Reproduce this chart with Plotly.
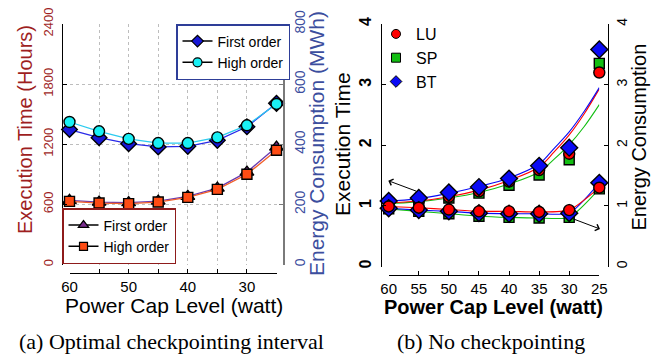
import plotly.graph_objects as go

# ---------------- data ----------------
power = [60, 55, 50, 45, 40, 35, 30, 25]
power_labels_a = ["60", "", "50", "", "40", "", "30", ""]
power_labels_b = ["60", "55", "50", "45", "40", "35", "30", "25"]

# panel (a): execution time (hours) and energy (MWh)
time_first = [640, 622, 617, 632, 680, 762, 922, 1172]
time_high = [630, 613, 607, 623, 670, 750, 900, 1140]
energy_first = [449, 422, 402, 391, 393, 413, 458, 536]
energy_high = [474, 443, 418, 404, 404, 423, 463, 534]
time_ticks_a = [0, 600, 1200, 1800, 2400]
energy_ticks_a = [0, 200, 400, 600, 800]

# panel (b): normalized execution time / energy
time_LU = [1.05, 1.08, 1.15, 1.24, 1.40, 1.59, 1.86, 3.20]
time_SP = [1.04, 1.07, 1.13, 1.21, 1.34, 1.51, 1.76, 3.35]
time_BT = [1.08, 1.13, 1.22, 1.31, 1.45, 1.66, 1.96, 3.58]
energy_LU = [0.99, 0.97, 0.94, 0.91, 0.91, 0.90, 0.93, 1.30]
energy_SP = [0.95, 0.91, 0.87, 0.83, 0.81, 0.80, 0.81, 1.28]
energy_BT = [0.96, 0.93, 0.91, 0.88, 0.87, 0.87, 0.88, 1.38]
# fitted curves for execution time
fit_x = [61.2, 60, 55, 50, 45, 40, 35, 32.5, 30, 27.5, 25]
fit_BT = [1.08, 1.08, 1.12, 1.21, 1.32, 1.46, 1.69, 1.95, 2.22, 2.56, 2.95]
fit_LU = [1.05, 1.05, 1.08, 1.15, 1.26, 1.42, 1.64, 1.89, 2.17, 2.52, 2.93]
fit_SP = [1.04, 1.04, 1.07, 1.13, 1.22, 1.36, 1.56, 1.77, 2.01, 2.31, 2.67]
ticks_b = [0, 1, 2, 3, 4]

# ---------------- styles ----------------
W, H = 665, 355
def px(x):
    return x / W
def py(y):
    return 1 - y / H

SANS = "Liberation Sans, Arial, sans-serif"
SERIF = "Liberation Serif, Times New Roman, serif"
RED_AX = "#9E1F1F"
BLUE_AX = "#3C4E9E"
DIAMOND = "#1717D6"
CYAN = "#19F0F5"
CYAN_LINE = "#2CCBEF"
PURPLE = "#7A2E8E"
ORANGE = "#FF4C14"
GRID = "#bdbdbd"
LU_C, SP_C, BT_C = "#FF0000", "#12BE12", "#0A0AF5"
edge = dict(color="black", width=1.4)

fig = go.Figure()

# ----- panel (a) -----
fig.add_trace(go.Scatter(x=power, y=energy_first, xaxis="x", yaxis="y2", mode="lines+markers",
                         line=dict(color="#2A2AE8", width=1.3),
                         marker=dict(symbol="diamond", size=12, color=DIAMOND, line=edge),
                         showlegend=False, cliponaxis=False))
fig.add_trace(go.Scatter(x=power, y=energy_high, xaxis="x", yaxis="y2", mode="lines+markers",
                         line=dict(color=CYAN_LINE, width=1.3),
                         marker=dict(symbol="circle", size=11, color=CYAN, line=edge),
                         showlegend=False, cliponaxis=False))
fig.add_trace(go.Scatter(x=power, y=time_first, xaxis="x", yaxis="y", mode="lines+markers",
                         line=dict(color="#6A3AB0", width=1.3),
                         marker=dict(symbol="triangle-up", size=12, color=PURPLE, line=edge),
                         showlegend=False, cliponaxis=False))
fig.add_trace(go.Scatter(x=power, y=time_high, xaxis="x", yaxis="y", mode="lines+markers",
                         line=dict(color="#F2602A", width=1.3),
                         marker=dict(symbol="square", size=10, color=ORANGE, line=edge),
                         showlegend=False, cliponaxis=False))

# legend entries (black line + coloured marker)
for name, sym, col, sz, leg in [("First order", "diamond", DIAMOND, 9, "legend"),
                                ("High order", "circle", CYAN, 9, "legend"),
                                ("First order", "triangle-up", PURPLE, 9, "legend2"),
                                ("High order", "square", ORANGE, 8, "legend2")]:
    fig.add_trace(go.Scatter(x=[None], y=[None], xaxis="x", yaxis="y", mode="lines+markers",
                             name=name, legend=leg,
                             line=dict(color="black", width=1.5),
                             marker=dict(symbol=sym, size=sz, color=col, line=dict(color="black", width=1.2))))

# ----- panel (b) -----
for fx, col in [(fit_SP, SP_C), (fit_LU, LU_C), (fit_BT, BT_C)]:
    fig.add_trace(go.Scatter(x=fit_x, y=fx, xaxis="x2", yaxis="y3", mode="lines",
                             line=dict(color=col, width=1.1, shape="spline"),
                             showlegend=False, hoverinfo="skip"))
for ys, col in [(energy_SP, SP_C), (energy_BT, BT_C), (energy_LU, LU_C)]:
    fig.add_trace(go.Scatter(x=power, y=ys, xaxis="x2", yaxis="y4", mode="lines",
                             line=dict(color=col, width=1.1, shape="spline", smoothing=0.6),
                             showlegend=False, hoverinfo="skip"))

fig.add_trace(go.Scatter(x=power, y=time_SP, xaxis="x2", yaxis="y3", mode="markers",
                         marker=dict(symbol="square", size=10, color=SP_C, line=edge),
                         showlegend=False, cliponaxis=False))
fig.add_trace(go.Scatter(x=power, y=time_LU, xaxis="x2", yaxis="y3", mode="markers",
                         marker=dict(symbol="circle", size=11, color=LU_C, line=edge),
                         showlegend=False, cliponaxis=False))
fig.add_trace(go.Scatter(x=power, y=time_BT, xaxis="x2", yaxis="y3", mode="markers",
                         marker=dict(symbol="diamond", size=13, color=BT_C, line=edge),
                         showlegend=False, cliponaxis=False))
fig.add_trace(go.Scatter(x=power, y=energy_SP, xaxis="x2", yaxis="y4", mode="markers",
                         marker=dict(symbol="square", size=10, color=SP_C, line=edge),
                         showlegend=False, cliponaxis=False))
fig.add_trace(go.Scatter(x=power, y=energy_BT, xaxis="x2", yaxis="y4", mode="markers",
                         marker=dict(symbol="diamond", size=13, color=BT_C, line=edge),
                         showlegend=False, cliponaxis=False))
fig.add_trace(go.Scatter(x=power, y=energy_LU, xaxis="x2", yaxis="y4", mode="markers",
                         marker=dict(symbol="circle", size=11, color=LU_C, line=edge),
                         showlegend=False, cliponaxis=False))

for name, sym, col in [("LU", "circle", LU_C), ("SP", "square", SP_C), ("BT", "diamond", BT_C)]:
    fig.add_trace(go.Scatter(x=[None], y=[None], xaxis="x2", yaxis="y3", mode="markers",
                             name=name, legend="legend3",
                             marker=dict(symbol=sym, size=9, color=col, line=dict(color="black", width=1))))

# ---------------- layout ----------------
common_x = dict(anchor="free", showline=True, linecolor="black", linewidth=1,
                ticks="inside", ticklen=4, tickcolor="black", zeroline=False,
                automargin=False,
                tickfont=dict(family=SANS, size=15, color="black"), range=[60, 25])

fig.update_layout(
    template="none",
    width=W, height=H, margin=dict(l=0, r=0, t=0, b=0, pad=0),
    paper_bgcolor="white", plot_bgcolor="rgba(0,0,0,0)",
    font=dict(family=SANS, color="black"),
    xaxis=dict(common_x, domain=[px(69.5), px(276.5)], position=py(273.3),
               tickvals=power, ticktext=power_labels_a,
               showgrid=True, gridcolor=GRID, griddash="dot", gridwidth=1),
    yaxis=dict(domain=[py(264.5), py(24)], range=[0, 2400], anchor="free", position=px(62),
               side="left", showline=True, linecolor="black", linewidth=1, automargin=False,
               ticks="inside", ticklen=4, tickcolor="black",
               tickvals=time_ticks_a, tickangle=-90, ticklabelstandoff=4,
               tickfont=dict(family=SANS, size=13, color=RED_AX),
               showgrid=True, gridcolor=GRID, griddash="dot", gridwidth=1, zeroline=False),
    yaxis2=dict(overlaying="y", side="right", anchor="free", position=px(284), range=[0, 800],
                showline=True, linecolor="#7a7a7a", linewidth=1.5, automargin=False,
                ticks="inside", ticklen=4, tickcolor="#7a7a7a",
                tickvals=energy_ticks_a, tickangle=-90, ticklabelstandoff=3,
                tickfont=dict(family=SANS, size=14, color=BLUE_AX),
                showgrid=False, zeroline=False),
    xaxis2=dict(common_x, domain=[px(388.7), px(599.3)], position=py(275),
                tickvals=power, ticktext=power_labels_b, showgrid=False),
    yaxis3=dict(domain=[py(266.5), py(24)], range=[0, 4], anchor="free", position=px(380.7),
                side="left", showline=True, linecolor="black", linewidth=1, automargin=False,
                ticks="inside", ticklen=4, tickcolor="black",
                tickvals=ticks_b, tickangle=-90, ticklabelstandoff=3,
                tickfont=dict(family=SANS, size=16, color="black", weight="bold"),
                showgrid=False, zeroline=False),
    yaxis4=dict(overlaying="y3", side="right", anchor="free", position=px(608), range=[0, 4],
                showline=True, linecolor="black", linewidth=1, automargin=False,
                ticks="inside", ticklen=4, tickcolor="black",
                tickvals=ticks_b, tickangle=-90, ticklabelstandoff=1,
                tickfont=dict(family=SANS, size=14, color="black"),
                showgrid=False, zeroline=False),
    legend=dict(x=px(176), y=py(24), xanchor="left", yanchor="top",
                bgcolor="white", bordercolor="#2E3E98", borderwidth=1.5,
                font=dict(family=SANS, size=14, color="black"), tracegroupgap=0,
                itemwidth=30),
    legend2=dict(x=px(62), y=py(264), xanchor="left", yanchor="bottom",
                 bgcolor="white", bordercolor="#8E1B1B", borderwidth=1.5,
                 font=dict(family=SANS, size=14, color="black"), tracegroupgap=0,
                 itemwidth=30),
    legend3=dict(x=px(376), y=py(17), xanchor="left", yanchor="top",
                 bgcolor="rgba(0,0,0,0)", borderwidth=0,
                 font=dict(family=SANS, size=16, color="black"), tracegroupgap=0,
                 itemwidth=30),
)

ann = []
# axis titles
ann.append(dict(text="Execution Time (Hours)", x=px(25), y=py(130), textangle=-90,
                font=dict(family=SANS, size=20, color=RED_AX)))
ann.append(dict(text="Energy Consumption (MWh)", x=px(316.5), y=py(143.5), textangle=-90,
                font=dict(family=SANS, size=21, color=BLUE_AX)))
ann.append(dict(text="Power Cap Level (watt)", x=px(173.5), y=py(305.5),
                font=dict(family=SANS, size=21, color="black")))
ann.append(dict(text="Execution Time", x=px(342), y=py(144), textangle=-90,
                font=dict(family=SANS, size=21, color="black")))
ann.append(dict(text="Energy Consumption", x=px(638.5), y=py(137), textangle=-90,
                font=dict(family=SANS, size=20, color="black")))
ann.append(dict(text="<b>Power Cap Level (watt)</b>", x=px(493.5), y=py(306.5),
                font=dict(family=SANS, size=20, color="black")))
# captions
ann.append(dict(text="(a) Optimal checkpointing interval", x=px(171.7), y=py(341.5),
                font=dict(family=SERIF, size=22, color="black")))
ann.append(dict(text="(b) No checkpointing", x=px(490.5), y=py(341.5),
                font=dict(family=SERIF, size=22, color="black")))
for a in ann:
    a.update(xref="paper", yref="paper", showarrow=False, xanchor="center", yanchor="middle")

# arrows in panel (b)
ann.append(dict(text="", xref="paper", yref="paper", x=px(388.3), y=py(180.7),
                ax=29.4, ay=11, showarrow=True, arrowhead=4, arrowsize=1.3,
                arrowwidth=1, arrowcolor="black"))
ann.append(dict(text="", xref="paper", yref="paper", x=px(600), y=py(229),
                ax=-28.3, ay=-10.7, showarrow=True, arrowhead=4, arrowsize=1.3,
                arrowwidth=1, arrowcolor="black"))
fig.update_layout(annotations=ann)

fig.write_html("out.html")
